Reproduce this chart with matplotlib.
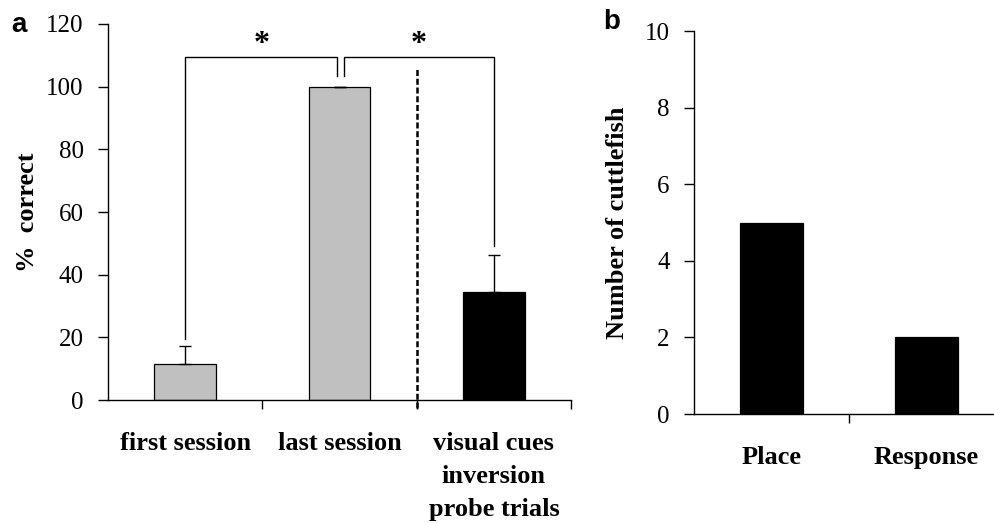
import numpy as np
import matplotlib.pyplot as plt

plt.rcParams['font.family'] = ['Liberation Serif', 'DejaVu Serif']

# panel a data
sessions = ['first session', 'last session', 'visual cues\ninversion\nprobe trials']
pct_correct = [11.5, 100, 34.5]
pct_err = [5.8, 0, 11.8]
bar_colors = ['#c0c0c0', '#c0c0c0', 'black']

# panel b data
strategies = ['Place', 'Response']
n_cuttlefish = [5, 2]

fig = plt.figure(figsize=(9.94, 5.24), dpi=100)


def style_axes(ax, nbars):
    ax.spines['top'].set_visible(False)
    ax.spines['right'].set_visible(False)
    for s in ['left', 'bottom']:
        ax.spines[s].set_linewidth(1.0)
    ax.tick_params(axis='y', direction='out', length=7.5, width=1,
                   labelsize=18, pad=10)
    ax.set_xticks(np.arange(nbars))
    ax.set_xticks(np.arange(nbars) + 0.5, minor=True)
    ax.tick_params(axis='x', which='major', length=0, pad=23)
    ax.tick_params(axis='x', which='minor', direction='out', length=6.5, width=1)
    for lab in ax.get_xticklabels():
        lab.set_fontsize(19)
        lab.set_fontweight('bold')


# ---- panel a ----
ax1 = fig.add_axes([0.1087, 0.2366, 0.4658, 0.7176])
x1 = np.arange(len(sessions))
ax1.bar(x1, pct_correct, width=0.4, color=bar_colors, edgecolor='black',
        linewidth=0.9, zorder=2)
ax1.errorbar(x1, pct_correct, yerr=[np.zeros(len(x1)), pct_err], fmt='none',
             ecolor='black', elinewidth=1, capsize=4.5, capthick=1, zorder=3)
ax1.set_xlim(-0.5, 2.5)
ax1.set_ylim(0, 120)
ax1.set_yticks(np.arange(0, 121, 20))
ax1.set_xticklabels(sessions, linespacing=1.55)
style_axes(ax1, len(sessions))
ax1.set_ylabel('%  correct', fontsize=19, fontweight='bold')
ax1.yaxis.set_label_coords(-0.15, 0.5)

# significance brackets: (x left, x right, y left end, y right end, y top)
brackets = [(0.0, 0.985, 19.4, 103.4, 109.5),
            (1.03, 2.0, 103.4, 49.3, 109.5)]
for xl, xr, yl, yr, yt in brackets:
    ax1.plot([xl, xl, xr, xr], [yl, yt, yt, yr], color='black', lw=1.0,
             solid_joinstyle='miter')
    ax1.text((xl + xr) / 2, 113.5, '*', ha='center', va='center',
             fontsize=23, fontweight='bold')

# dashed divider between training and probe trials
ax1.plot([1.5, 1.5], [-2.6, 105.5], color='black', lw=1.8,
         linestyle=(0, (2.4, 1.1)), clip_on=False, zorder=4)

fig.text(0.0186, 0.953, 'a', fontsize=20, fontweight='bold',
         family='Liberation Sans', ha='center', va='center')

# ---- panel b ----
ax2 = fig.add_axes([0.6982, 0.2099, 0.3119, 0.7309])
x2 = np.arange(len(strategies))
ax2.bar(x2, n_cuttlefish, width=0.41, color='black', edgecolor='black',
        linewidth=0.9)
ax2.set_xlim(-0.5, 1.5)
ax2.set_ylim(0, 10)
ax2.set_yticks(np.arange(0, 11, 2))
ax2.set_xticklabels(strategies)
style_axes(ax2, len(strategies))
ax2.set_ylabel('Number of cuttlefish', fontsize=19, fontweight='bold')
ax2.yaxis.set_label_coords(-0.21, 0.5)

fig.text(0.615, 0.958, 'b', fontsize=20, fontweight='bold',
         family='Liberation Sans', ha='center', va='center')

fig.savefig('out.png', dpi=100)
